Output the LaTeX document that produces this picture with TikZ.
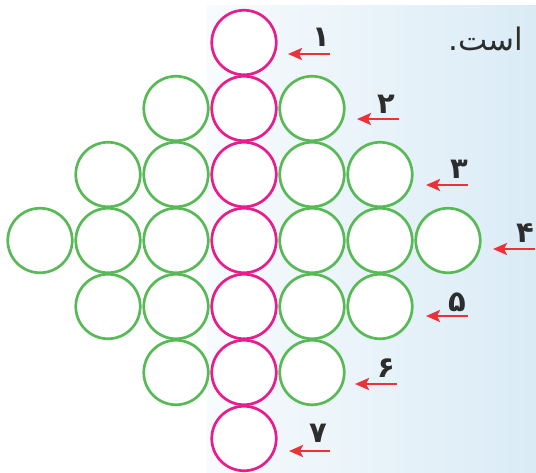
\documentclass[tikz,border=0pt]{standalone}
\usepackage{fontspec}
\newfontfamily\arabicfont[Script=Arabic]{DejaVu Sans}
\TeXXeTstate=1
\usetikzlibrary{arrows.meta}
\definecolor{pinkc}{RGB}{232,28,140}
\definecolor{greenc}{RGB}{88,186,86}
\definecolor{redc}{RGB}{236,50,56}
\definecolor{bgl}{RGB}{247,251,253}
\definecolor{bgr}{RGB}{218,235,246}
\definecolor{digitc}{RGB}{45,45,45}
\tikzset{
  ring/.style={circle, draw, fill=white, line width=2.7pt, minimum size=64.5pt, inner sep=0pt, outer sep=0pt},
  gring/.style={ring, draw=greenc},
  pring/.style={ring, draw=pinkc},
  redarrow/.style={draw=redc, line width=2.6pt, -{Stealth[length=14pt,width=12pt,inset=3pt]}},
  digit/.style={text=digitc, font=\arabicfont\bfseries\fontsize{29}{29}\selectfont, inner sep=0pt},
}
\begin{document}
\begin{tikzpicture}[x=1pt,y=-1pt]
\useasboundingbox (0,0) rectangle (536,472);
\fill[white] (0,0) rectangle (536,472);
\shade[left color=bgl, right color=bgr] (207,5) rectangle (536,472);
% green rings
\foreach \r/\cols in {2/{3,5},3/{2,3,5,6},4/{1,2,3,5,6,7},5/{2,3,5,6},6/{3,5}}{
  \foreach \c in \cols {
    \node[gring] (c\r-\c) at ({40+68*(\c-1)},{42.5+66*(\r-1)}) {};
  }
}
% pink rings
\foreach \r in {1,...,7}{
  \node[pring] (c\r-4) at (244,{42.5+66*(\r-1)}) {};
}
% arrows
\foreach \n/\tx/\hx/\y in {1/330/288/54, 2/399/357/119, 3/468/426/185, 4/535/493/249, 5/468/426/316, 6/397/355/384, 7/330/289/451}{
  \coordinate (t\n) at (\tx,\y);
  \coordinate (h\n) at (\hx,\y);
  \draw[redarrow] (t\n) -- (h\n);
}
\node[digit] (d1) at (321,37) {\beginR ۱\endR};
\node[digit] (d2) at (386,104) {\beginR ۲\endR};
\node[digit] (d3) at (459,169) {\beginR ۳\endR};
\node[digit] (d4) at (525,233) {\beginR ۴\endR};
\node[digit] (d5) at (457,302) {\beginR ۵\endR};
\node[digit] (d6) at (386,368) {\beginR ۶\endR};
\node[digit] (d7) at (318,433) {\beginR ۷\endR};
\node[text=digitc, font=\arabicfont\fontsize{31}{31}\selectfont, inner sep=0pt] (txt) at (486,39) {\beginR است.\endR};
\end{tikzpicture}
\end{document}
